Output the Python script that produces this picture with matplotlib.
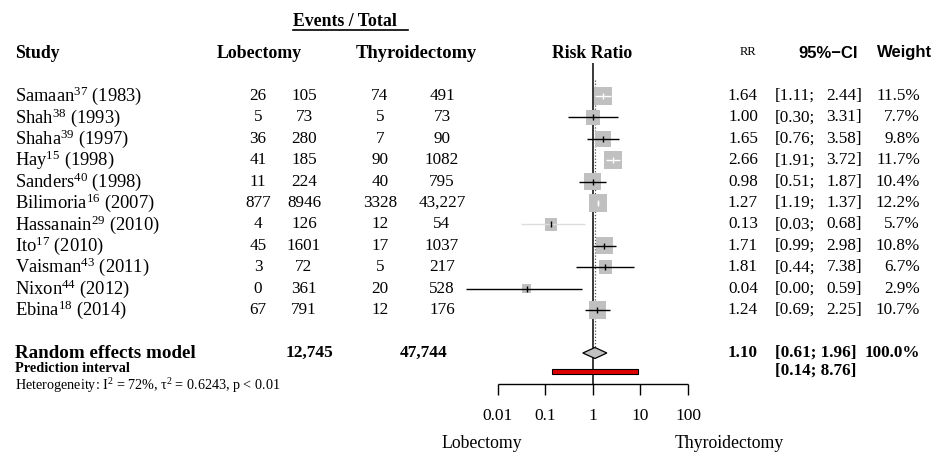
import numpy as np
import matplotlib
matplotlib.use("Agg")
import matplotlib.pyplot as plt
from matplotlib import transforms

# ---- data ----
authors = ["Samaan", "Shah", "Shaha", "Hay", "Sanders", "Bilimoria",
           "Hassanain", "Ito", "Vaisman", "Nixon", "Ebina"]
refs = ["37", "38", "39", "15", "40", "16", "29", "17", "43", "44", "18"]
years = [1983, 1993, 1997, 1998, 1998, 2007, 2010, 2010, 2011, 2012, 2014]
lob_events = [26, 5, 36, 41, 11, 877, 4, 45, 3, 0, 67]
lob_total = [105, 73, 280, 185, 224, 8946, 126, 1601, 72, 361, 791]
thy_events = [74, 5, 7, 90, 40, 3328, 12, 17, 5, 20, 12]
thy_total = [491, 73, 90, 1082, 795, 43227, 54, 1037, 217, 528, 176]
rr = [1.64, 1.00, 1.65, 2.66, 0.98, 1.27, 0.13, 1.71, 1.81, 0.04, 1.24]
ci_lo = [1.11, 0.30, 0.76, 1.91, 0.51, 1.19, 0.03, 0.99, 0.44, 0.0021, 0.69]
ci_hi = [2.44, 3.31, 3.58, 3.72, 1.87, 1.37, 0.68, 2.98, 7.38, 0.59, 2.25]
weight = [11.5, 7.7, 9.8, 11.7, 10.4, 12.2, 5.7, 10.8, 6.7, 2.9, 10.7]

re_rr, re_lo, re_hi = 1.10, 0.61, 1.96
pi_lo, pi_hi = 0.14, 8.76
re_lob_total, re_thy_total = 12745, 47744
ticks = [0.01, 0.1, 1, 10, 100]
tick_labels = ["0.01", "0.1", "1", "10", "100"]

W, H = 935, 455
SERIF = "Liberation Serif"
SANS = "Liberation Sans"
plt.rcParams["font.family"] = SERIF
plt.rcParams["mathtext.fontset"] = "custom"
plt.rcParams["mathtext.rm"] = SERIF
plt.rcParams["mathtext.it"] = SERIF + ":italic"
plt.rcParams["mathtext.default"] = "regular"

fig = plt.figure(figsize=(W / 100, H / 100), dpi=100)
ax = fig.add_axes([0, 0, 1, 1])
ax.set_xscale("log")
ax.set_xlim(10 ** -12.484, 10 ** 7.2)
ax.set_ylim(H, 0)
ax.axis("off")

T = transforms.blended_transform_factory(ax.transAxes, ax.transData)


def txt(xpx, y, s, **kw):
    kw.setdefault("fontsize", 12.3)
    kw.setdefault("va", "center")
    ax.text(xpx / W, y, s, transform=T, **kw)


def fmt(n):
    return f"{n:,}" if n >= 10000 else str(n)


def px(v):
    return ax.transData.transform((v, 0))[0]


# ---- headers ----
txt(293, 22, "Events / Total", fontweight="bold", fontsize=12.8)
ax.plot([293 / W, 408 / W], [30, 30], transform=T, color="black", lw=1.2)
txt(15, 53, "Study", fontweight="bold", fontsize=12.8)
txt(217, 53, "Lobectomy", fontweight="bold", fontsize=12.8)
txt(356, 53, "Thyroidectomy", fontweight="bold", fontsize=13.3)
txt(592, 53, "Risk Ratio", fontweight="bold", fontsize=12.8, ha="center")
txt(748, 52, "RR", fontsize=9, ha="center")
txt(798, 53, "95%\u2212CI", fontweight="bold", fontsize=12, family=SANS)
txt(932, 53, "Weight", fontweight="bold", fontsize=12, family=SANS, ha="right")

# ---- study rows ----
y0, dy = 96, 21.4
rows = [y0 + i * dy for i in range(len(authors))]

ax.vlines(1, 63, 384, color="#3a3a3a", lw=1.4)
ax.vlines(re_rr, 80, 347, color="#555555", lw=0.9, linestyles=(0, (1, 1.5)))

for i, y in enumerate(rows):
    txt(15, y, f"{authors[i]}$^{{{refs[i]}}}$ ({years[i]})", fontsize=13.3)
    txt(258, y, str(lob_events[i]), ha="center")
    txt(304, y, fmt(lob_total[i]), ha="center")
    txt(380, y, str(thy_events[i]), ha="center")
    txt(442, y, fmt(thy_total[i]), ha="center")
    txt(758, y, f"{rr[i]:.2f}", ha="right")
    txt(775, y, f"[{ci_lo[i]:.2f};", ha="left")
    txt(862, y, f"{ci_hi[i]:.2f}]", ha="right")
    txt(920, y, f"{weight[i]:.1f}%", ha="right")

    side = 5.2 * np.sqrt(weight[i])
    ax.scatter([rr[i]], [y], marker="s", s=(side * 0.72) ** 2,
               color="#c0c0c0", edgecolors="none", zorder=3)
    inside = (px(rr[i]) - px(ci_lo[i]) < side / 2 and
              px(ci_hi[i]) - px(rr[i]) < side / 2)
    col = "white" if inside else "black"
    if authors[i] == "Hassanain":
        col = "#dcdcdc"
    ax.hlines(y, ci_lo[i], ci_hi[i], color=col, lw=1, zorder=4)
    ax.vlines(rr[i], y - 3, y + 3, color="white" if inside else "black",
              lw=1, zorder=4)

# ---- summary ----
yr = 353
txt(15, yr, "Random effects model", fontweight="bold", fontsize=13.7)
txt(333, yr, fmt(re_lob_total), fontweight="bold", fontsize=12.5, ha="right")
txt(447, yr, fmt(re_thy_total), fontweight="bold", fontsize=12.5, ha="right")
txt(758, yr, f"{re_rr:.2f}", fontweight="bold", ha="right")
txt(775, yr, f"[{re_lo:.2f}; {re_hi:.2f}]", fontweight="bold")
txt(920, yr, "100.0%", fontweight="bold", ha="right")
ax.fill([re_lo, re_rr, re_hi, re_rr], [yr, yr - 5.5, yr, yr + 5.5],
        facecolor="#c0c0c0", edgecolor="black", lw=0.9, zorder=4)

yp = 371
txt(15, yp - 3, "Prediction interval", fontweight="bold", fontsize=10.3)
txt(775, yp, f"[{pi_lo:.2f}; {pi_hi:.2f}]", fontweight="bold")
ax.fill([pi_lo, pi_hi, pi_hi, pi_lo], [yp - 2.5, yp - 2.5, yp + 2.5, yp + 2.5],
        facecolor="#e00000", edgecolor="black", lw=0.8, zorder=4)

txt(15, 386, r"Heterogeneity: $I^2$ = 72%, $\tau^2$ = 0.6243, p < 0.01",
    fontsize=10.2)

# ---- x axis ----
ax.hlines(384, ticks[0], ticks[-1], color="black", lw=1)
ax.vlines(ticks, 384, 395, color="black", lw=1)
for t, lab in zip(ticks, tick_labels):
    ax.text(t, 416, lab, ha="center", va="center", fontsize=12.5)

txt(482, 444, "Lobectomy", ha="center", fontsize=12.8)
txt(729, 444, "Thyroidectomy", ha="center", fontsize=12.8)

fig.savefig("out.png", dpi=100, facecolor="white")
